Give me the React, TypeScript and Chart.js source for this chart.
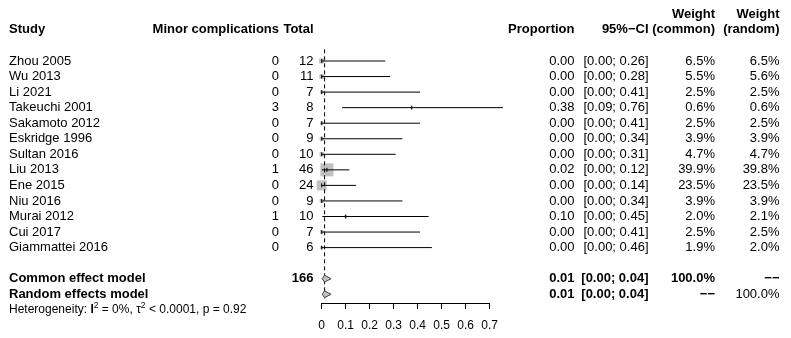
import React, { useEffect, useRef } from "react";
import { Chart, registerables } from "chart.js";

Chart.register(...registerables);

const studies = [
  "Zhou 2005", "Wu 2013", "Li 2021", "Takeuchi 2001", "Sakamoto 2012", "Eskridge 1996",
  "Sultan 2016", "Liu 2013", "Ene 2015", "Niu 2016", "Murai 2012", "Cui 2017", "Giammattei 2016",
];
const events = [0, 0, 0, 3, 0, 0, 0, 1, 0, 0, 1, 0, 0];
const totals = [12, 11, 7, 8, 7, 9, 10, 46, 24, 9, 10, 7, 6];
const proportions = [0, 0, 0, 0.375, 0, 0, 0, 0.0217, 0, 0, 0.1, 0, 0];
const ciLower = [0, 0, 0, 0.0852, 0, 0, 0, 0.0006, 0, 0, 0.0025, 0, 0];
const ciUpper = [0.2646, 0.2849, 0.4096, 0.7551, 0.4096, 0.3363, 0.3085, 0.1153, 0.1425, 0.3363, 0.4451, 0.4096, 0.4593];
const weightCommon = [6.5, 5.5, 2.5, 0.6, 2.5, 3.9, 4.7, 39.9, 23.5, 3.9, 2.0, 2.5, 1.9];
const weightRandom = [6.5, 5.6, 2.5, 0.6, 2.5, 3.9, 4.7, 39.8, 23.5, 3.9, 2.1, 2.5, 2.0];

const pooledLabels = ["Common effect model", "Random effects model"];
const pooledEst = [0.012, 0.012];
const pooledLower = [0.002, 0.002];
const pooledUpper = [0.039, 0.039];
const pooledWeightCommon = ["100.0%", "\u2212\u2212"];
const pooledWeightRandom = ["\u2212\u2212", "100.0%"];

const xTicks = [0, 0.1, 0.2, 0.3, 0.4, 0.5, 0.6, 0.7];

const FONT = '"Liberation Sans", Arial, Helvetica, sans-serif';
const ROW0 = 61;
const ROWH = 15.55;
const AREA_TOP = 40;
const AREA_BOTTOM = 303;
const Y_MIN = (AREA_TOP - ROW0) / ROWH;
const Y_MAX = (AREA_BOTTOM - ROW0) / ROWH;
const POOLED_ROWS = [14, 15];
const HEADER_ROW = -2;
const HEADER_ROW_TOP = -3;
const HET_ROW = 16;

const tablePlugin = {
  id: "forestTable",
  afterDraw(chart: any) {
    const ctx: CanvasRenderingContext2D = chart.ctx;
    const ys = chart.scales.y;
    ctx.save();
    ctx.fillStyle = "#000";
    ctx.textBaseline = "middle";
    const put = (s: string, x: number, row: number, align: CanvasTextAlign, bold = false, size = 13) => {
      ctx.font = `${bold ? "bold " : ""}${size}px ${FONT}`;
      ctx.textAlign = align;
      ctx.fillText(s, x, ys.getPixelForValue(row));
    };
    // headers
    put("Study", 9, HEADER_ROW, "left", true);
    put("Minor complications", 279, HEADER_ROW, "right", true);
    put("Total", 313.5, HEADER_ROW, "right", true);
    put("Proportion", 574.5, HEADER_ROW, "right", true);
    put("95%\u2212CI", 648.5, HEADER_ROW, "right", true);
    put("Weight", 715, HEADER_ROW_TOP, "right", true);
    put("(common)", 715, HEADER_ROW, "right", true);
    put("Weight", 779.5, HEADER_ROW_TOP, "right", true);
    put("(random)", 779.5, HEADER_ROW, "right", true);
    // studies
    studies.forEach((s, i) => {
      put(s, 9, i, "left");
      put(String(events[i]), 279, i, "right");
      put(String(totals[i]), 313.5, i, "right");
      put(proportions[i].toFixed(2), 574.5, i, "right");
      put(`[${ciLower[i].toFixed(2)}; ${ciUpper[i].toFixed(2)}]`, 648.5, i, "right");
      put(weightCommon[i].toFixed(1) + "%", 715, i, "right");
      put(weightRandom[i].toFixed(1) + "%", 779.5, i, "right");
    });
    const totalN = totals.reduce((a, b) => a + b, 0);
    pooledLabels.forEach((s, k) => {
      const r = POOLED_ROWS[k];
      put(s, 9, r, "left", true);
      if (k === 0) put(String(totalN), 313.5, r, "right", true);
      put(pooledEst[k].toFixed(2), 574.5, r, "right", true);
      put(`[${pooledLower[k].toFixed(2)}; ${pooledUpper[k].toFixed(2)}]`, 648.5, r, "right", true);
      put(pooledWeightCommon[k], 715, r, "right", true);
      put(pooledWeightRandom[k], 779.5, r, "right", k === 0);
    });
    // heterogeneity
    const hy = ys.getPixelForValue(HET_ROW);
    let x = 9;
    const seg = (s: string, bold: boolean, size: number, dy: number) => {
      ctx.font = `${bold ? "bold " : ""}${size}px ${FONT}`;
      ctx.textAlign = "left";
      ctx.fillText(s, x, hy + dy);
      x += ctx.measureText(s).width;
    };
    seg("Heterogeneity: ", false, 12, 0);
    seg("I", true, 12, 0);
    seg("2", false, 8.5, -4.5);
    seg(" = 0%, \u03c4", false, 12, 0);
    seg("2", false, 8.5, -4.5);
    seg(" < 0.0001, p = 0.92", false, 12, 0);
    ctx.restore();
  },
};

export default function App() {
  const ref = useRef<HTMLCanvasElement>(null);
  useEffect(() => {
    const canvas = ref.current!;
    const datasets: any[] = [];
    // CI lines
    studies.forEach((_, i) => {
      datasets.push({
        data: [{ x: ciLower[i], y: i }, { x: ciUpper[i], y: i }],
        showLine: true, borderColor: "#000", borderWidth: 1, pointRadius: 0,
        clip: false, order: 2,
      });
    });
    // point estimate ticks
    datasets.push({
      data: proportions.map((p, i) => ({ x: p, y: i })),
      pointStyle: "line", rotation: 90, pointRadius: 2, borderColor: "#000",
      borderWidth: 1, clip: false, order: 1,
    });
    // squares
    datasets.push({
      data: proportions.map((p, i) => ({ x: p, y: i })),
      pointStyle: "rect",
      pointRadius: weightCommon.map((w) => (2.06 * Math.sqrt(w)) / (2 * Math.SQRT1_2)),
      backgroundColor: "#c0c0c0", borderWidth: 0, clip: false, order: 5,
    });
    // reference dashed line at common estimate
    datasets.push({
      data: [{ x: pooledEst[0], y: -0.75 }, { x: pooledEst[0], y: 15.26 }],
      showLine: true, borderColor: "#000", borderWidth: 1, borderDash: [4, 3],
      pointRadius: 0, clip: false, order: 3,
    });
    // diamonds
    POOLED_ROWS.forEach((r, k) => {
      const h = 0.22;
      datasets.push({
        data: [
          { x: pooledLower[k], y: r }, { x: pooledEst[k], y: r - h },
          { x: pooledUpper[k], y: r }, { x: pooledEst[k], y: r + h },
          { x: pooledLower[k], y: r },
        ],
        showLine: true, fill: "shape", tension: 0, borderColor: "#444", borderWidth: 1,
        backgroundColor: "#c0c0c0", pointRadius: 0, clip: false, order: 0,
      });
    });

    const chart = new Chart(canvas, {
      type: "scatter",
      data: { datasets },
      options: {
        animation: false,
        responsive: false,
        maintainAspectRatio: false,
        events: [],
        layout: { padding: { left: 321.7, right: 791 - 489.7, top: AREA_TOP, bottom: 0 } },
        plugins: { legend: { display: false }, tooltip: { enabled: false } },
        scales: {
          x: {
            type: "linear", min: 0, max: 0.7,
            afterBuildTicks: (s: any) => { s.ticks = xTicks.map((v) => ({ value: v })); },
            afterFit: (s: any) => { s.height = 338 - AREA_BOTTOM; },
            ticks: {
              font: { size: 12, family: FONT }, color: "#000", padding: 9,
              autoSkip: false, maxRotation: 0, callback: (v: any) => String(v),
            },
            grid: { display: true, drawOnChartArea: false, drawTicks: true, tickLength: 6, color: "#000", lineWidth: 1 },
            border: { display: true, color: "#000", width: 1 },
          },
          y: { type: "linear", display: false, reverse: true, min: Y_MIN, max: Y_MAX },
        },
      },
      plugins: [tablePlugin],
    } as any);
    return () => chart.destroy();
  }, []);
  return (
    <div style={{ position: "absolute", left: 0, top: 0, width: 791, height: 338, background: "#fff" }}>
      <canvas ref={ref} width={791} height={338} style={{ display: "block" }} />
    </div>
  );
}
